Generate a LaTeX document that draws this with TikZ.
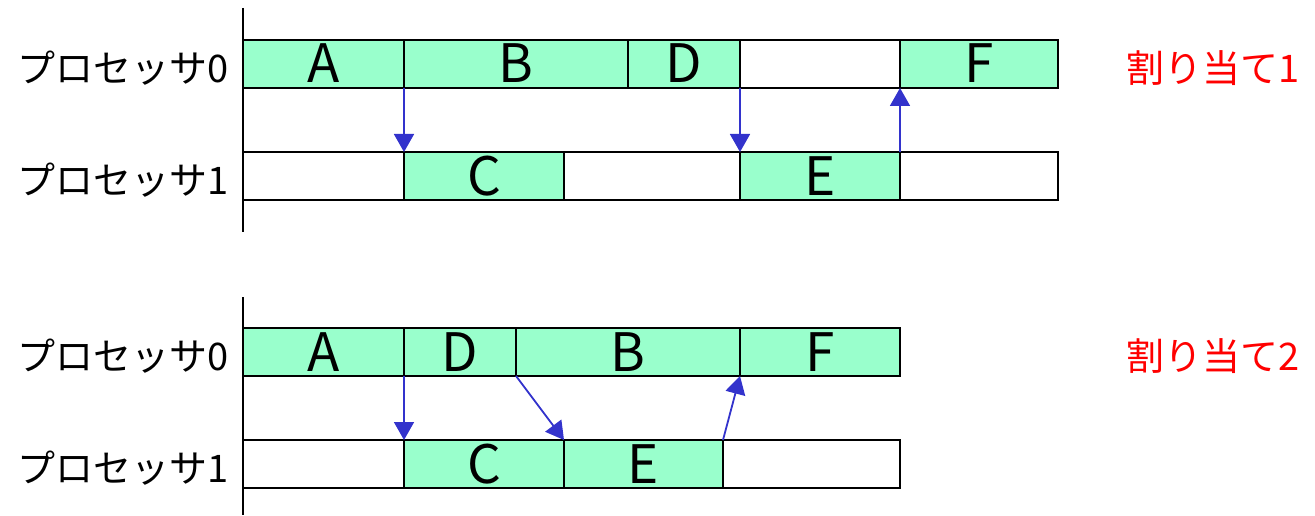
\documentclass[tikz,border=0pt]{standalone}
\usepackage{fontspec}
\setmainfont{Noto Sans CJK JP}
\usetikzlibrary{arrows.meta}
\definecolor{mint}{RGB}{153,255,204}
\definecolor{arrowblue}{RGB}{51,51,204}
\definecolor{labelred}{RGB}{255,0,0}
\tikzset{
  seg/.style={draw=black, line width=1.6pt, minimum height=48pt, inner sep=0pt, outer sep=0pt, anchor=center,
    font=\fontsize{53}{58}\selectfont, text height=38pt, text depth=0pt},
  busy/.style={seg, fill=mint},
  idle/.style={seg, fill=white},
  plabel/.style={anchor=west, inner sep=0pt, font=\fontsize{38}{44}\selectfont},
  alabel/.style={anchor=west, inner sep=0pt, text=labelred, font=\fontsize{38}{44}\selectfont},
  msg/.style={draw=arrowblue, line width=1.8pt, -{Triangle[width=20pt,length=18pt]}, arrowblue},
  axis/.style={draw=black, line width=1.8pt}
}
\begin{document}
\begin{tikzpicture}[x=1pt, y=-1pt]
\useasboundingbox (0,0) rectangle (1315,516);
% axes
\draw[axis] (243,8) -- (243,232);
\draw[axis] (243,297) -- (243,515);
% ---- allocation 1 ----
\node[busy, minimum width=161pt] (A1) at (323.5,64) {A};
\node[busy, minimum width=224pt] (B1) at (516,64) {B};
\node[busy, minimum width=112pt] (D1) at (684,64) {D};
\node[idle, minimum width=160pt] (I1a) at (820,64) {};
\node[busy, minimum width=158pt] (F1) at (979,64) {F};
\node[idle, minimum width=161pt] (I1b) at (323.5,176) {};
\node[busy, minimum width=160pt] (C1) at (484,176) {C};
\node[idle, minimum width=176pt] (I1c) at (652,176) {};
\node[busy, minimum width=160pt] (E1) at (820,176) {E};
\node[idle, minimum width=158pt] (I1d) at (979,176) {};
\node[plabel] (P10) at (17,68) {プロセッサ0};
\node[plabel] (P11) at (17,180) {プロセッサ1};
\node[alabel] (L1) at (1126,68) {割り当て1};
\draw[msg] (A1.south east) -- (C1.north west);
\draw[msg] (D1.south east) -- (E1.north west);
\draw[msg] (E1.north east) -- (F1.south west);
% ---- allocation 2 ----
\node[busy, minimum width=161pt] (A2) at (323.5,352) {A};
\node[busy, minimum width=112pt] (D2) at (460,352) {D};
\node[busy, minimum width=224pt] (B2) at (628,352) {B};
\node[busy, minimum width=160pt] (F2) at (820,352) {F};
\node[idle, minimum width=161pt] (I2a) at (323.5,464) {};
\node[busy, minimum width=160pt] (C2) at (484,464) {C};
\node[busy, minimum width=159pt] (E2) at (643.5,464) {E};
\node[idle, minimum width=177pt] (I2b) at (811.5,464) {};
\node[plabel] (P20) at (17,356) {プロセッサ0};
\node[plabel] (P21) at (17,468) {プロセッサ1};
\node[alabel] (L2) at (1126,356) {割り当て2};
\draw[msg] (A2.south east) -- (C2.north west);
\draw[msg] (D2.south east) -- (E2.north west);
\draw[msg] (E2.north east) -- (F2.south west);
\end{tikzpicture}
\end{document}
